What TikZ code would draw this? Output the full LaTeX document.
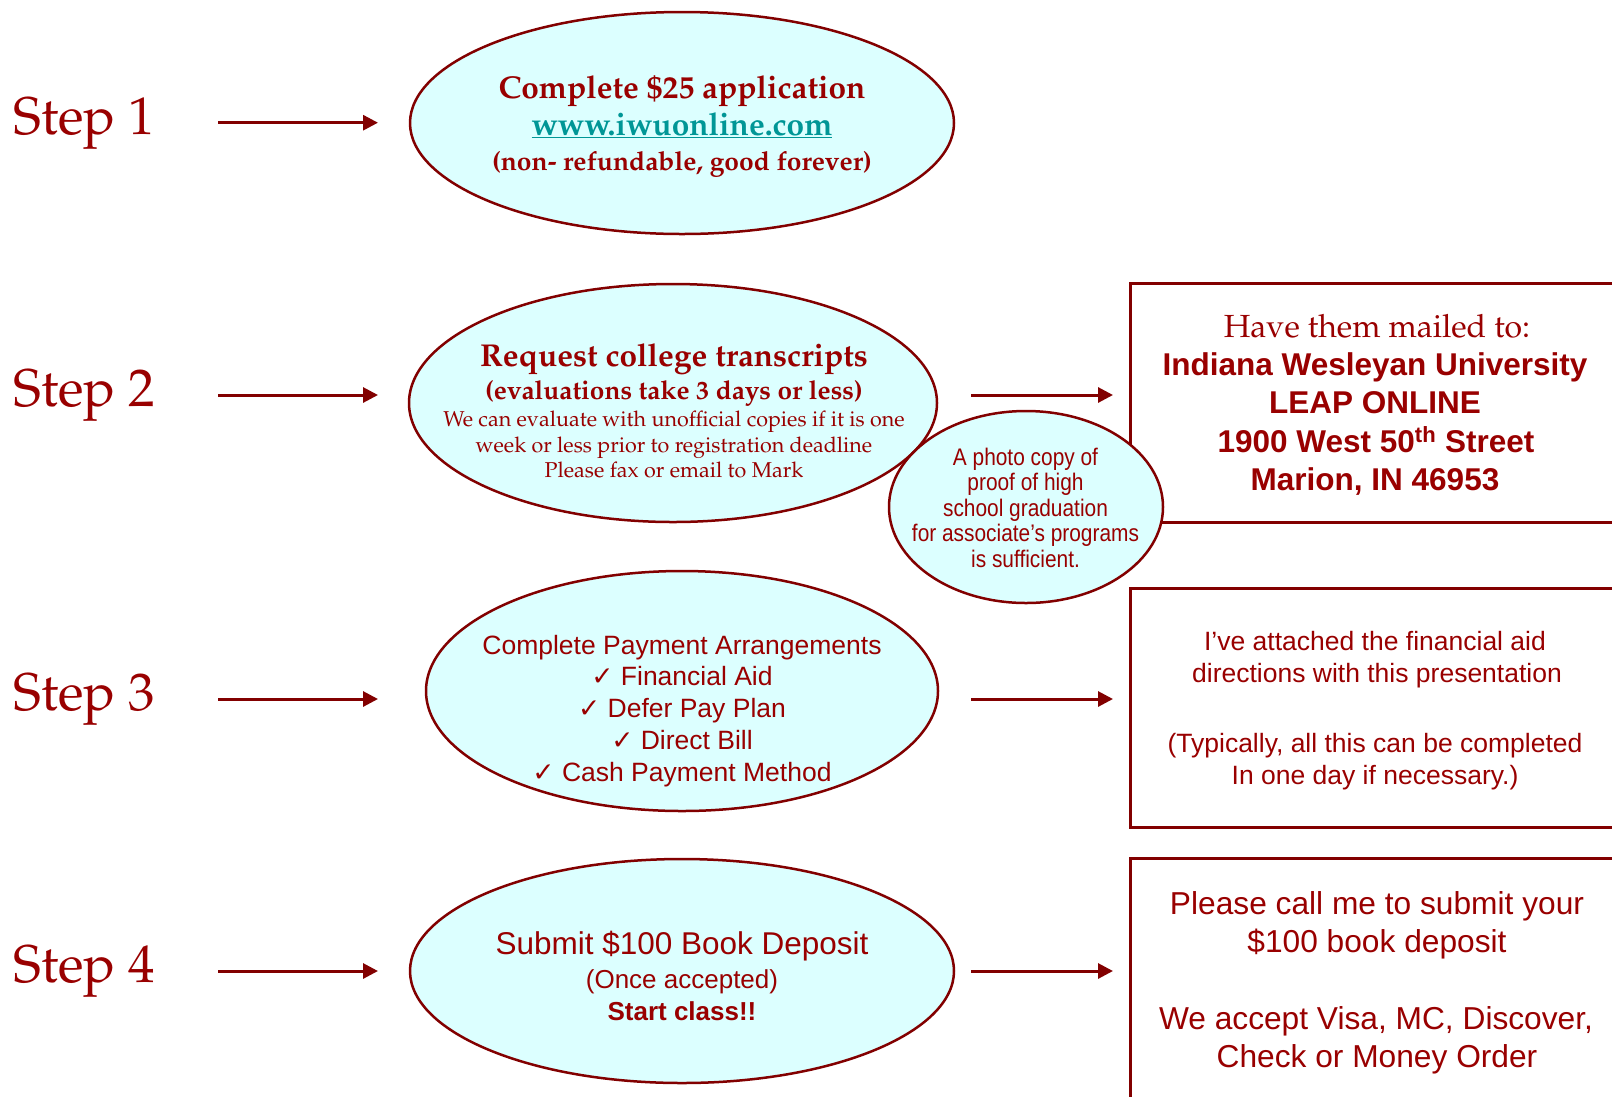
\documentclass[tikz,border=0pt]{standalone}
\usepackage[T1]{fontenc}
\usepackage{fontspec}
\setmainfont{Liberation Sans}
\newfontfamily\dejavu{DejaVu Sans}
\newfontfamily\narrowsans[FakeStretch=0.87]{Liberation Sans}
\usetikzlibrary{shapes.geometric,arrows.meta}
\definecolor{dred}{RGB}{153,0,0}
\definecolor{ered}{RGB}{130,0,0}
\definecolor{cyanf}{RGB}{220,255,255}
\definecolor{tealurl}{RGB}{0,150,150}
\newcommand\palsz[1]{\fontencoding{T1}\fontfamily{ppl}\fontsize{#1}{#1}\selectfont}
\newcommand\arsz[1]{\normalfont\fontsize{#1}{#1}\selectfont}
\newcommand\narsz[1]{\narrowsans\fontsize{#1}{#1}\selectfont}
\newcommand\chk{{\dejavu\char"2713}}
\tikzset{
  txt/.style={text=dred, inner sep=0pt, anchor=base},
  steplbl/.style={text=dred, inner sep=0pt, anchor=base west, font=\palsz{53}},
  ell/.style={ellipse, draw=ered, line width=2.5pt, fill=cyanf, inner sep=0pt, outer sep=0pt},
  infobox/.style={rectangle, draw=ered, line width=3pt, inner sep=0pt, outer sep=0pt, anchor=north west, minimum width=560pt},
  arr/.style={draw=ered, line width=3pt, -{Triangle[length=15pt,width=15pt]}},
}
\begin{document}
\begin{tikzpicture}[x=1pt,y=-1pt]
\clip (0,0) rectangle (1612,1096);
\fill[white] (0,0) rectangle (1612,1096);
% boxes
\node[infobox, minimum height=239pt] (b2) at (1130,283) {};
\node[infobox, minimum height=239pt] (b3) at (1130,588) {};
\node[infobox, minimum height=300pt] (b4) at (1130,858) {};
% ellipses
\node[ell, minimum width=544pt, minimum height=222pt] (e1) at (682,123) {};
\node[ell, minimum width=528pt, minimum height=238pt] (e2) at (673,403) {};
\node[ell, minimum width=512pt, minimum height=240pt] (e3) at (682,691) {};
\node[ell, minimum width=544pt, minimum height=224pt] (e4) at (682,971) {};
\node[ell, minimum width=274pt, minimum height=192pt] (c2) at (1026,507) {};
% step labels
\node[steplbl] (s1) at (13,134) {Step 1};
\node[steplbl] (s2) at (13,406.5) {Step 2};
\node[steplbl] (s3) at (13,710) {Step 3};
\node[steplbl] (s4) at (13,982) {Step 4};
% arrows
\coordinate (l1a) at (218,122.7); \coordinate (l1b) at (378,122.7);
\coordinate (l2a) at (218,395);   \coordinate (l2b) at (378,395);
\coordinate (l3a) at (218,699);   \coordinate (l3b) at (378,699);
\coordinate (l4a) at (218,971);   \coordinate (l4b) at (378,971);
\coordinate (r2a) at (971,395);   \coordinate (r2b) at (1113,395);
\coordinate (r3a) at (971,699);   \coordinate (r3b) at (1113,699);
\coordinate (r4a) at (971,971);   \coordinate (r4b) at (1113,971);
\draw[arr] (l1a) -- (l1b);
\draw[arr] (l2a) -- (l2b);
\draw[arr] (l3a) -- (l3b);
\draw[arr] (l4a) -- (l4b);
\draw[arr] (r2a) -- (r2b);
\draw[arr] (r3a) -- (r3b);
\draw[arr] (r4a) -- (r4b);
% ellipse 1 text
\node[txt, font=\palsz{31.6}\bfseries] (t1a) at (682,98) {Complete \$25 application};
\node[txt, font=\palsz{31.6}\bfseries, text=tealurl] (t1b) at (682,135) {\underline{www.iwuonline.com}};
\node[txt, font=\palsz{26.4}\bfseries] (t1c) at (682,170) {(non- refundable, good forever)};
% ellipse 2 text
\node[txt, font=\palsz{31.6}\bfseries] (t2a) at (674,366) {Request college transcripts};
\node[txt, font=\palsz{26.2}\bfseries] (t2b) at (674,399.5) {(evaluations take 3 days or less)};
\node[txt, font=\palsz{21.5}] (t2c) at (674,426) {We can evaluate with unofficial copies if it is one};
\node[txt, font=\palsz{21.5}] (t2d) at (674,452) {week or less prior to registration deadline};
\node[txt, font=\palsz{21.5}] (t2e) at (674,477) {Please fax or email to Mark};
% circle text
\node[txt, font=\narsz{24}] (c2a) at (1025.5,465) {A photo copy of};
\node[txt, font=\narsz{24}] (c2b) at (1025.5,490.5) {proof of high};
\node[txt, font=\narsz{24}] (c2c) at (1025.5,516) {school graduation};
\node[txt, font=\narsz{24}] (c2d) at (1025.5,541.5) {for associate’s programs};
\node[txt, font=\narsz{24}] (c2e) at (1025.5,567) {is sufficient.};
% ellipse 3 text
\node[txt, font=\arsz{26.5}] (t3a) at (682,654) {Complete Payment Arrangements};
\node[txt, font=\arsz{26.5}] (t3b) at (682,685) {\chk\ Financial Aid};
\node[txt, font=\arsz{26.5}] (t3c) at (682,717) {\chk\ Defer Pay Plan};
\node[txt, font=\arsz{26.5}] (t3d) at (682,749) {\chk\ Direct Bill};
\node[txt, font=\arsz{26.5}] (t3e) at (682,781) {\chk\ Cash Payment Method};
% ellipse 4 text
\node[txt, font=\arsz{31.5}] (t4a) at (682,954.5) {Submit \$100 Book Deposit};
\node[txt, font=\arsz{26}] (t4b) at (682,988) {(Once accepted)};
\node[txt, font=\arsz{26}\bfseries] (t4c) at (682,1020) {Start class!!};
% box 2 text
\node[txt, font=\palsz{32}] (b2a) at (1377,337.5) {Have them mailed to:};
\node[txt, font=\arsz{31.5}\bfseries] (b2b) at (1375,375.5) {Indiana Wesleyan University};
\node[txt, font=\arsz{31.5}\bfseries] (b2c) at (1375,413.5) {LEAP ONLINE};
\node[txt, font=\arsz{31.5}\bfseries] (b2d) at (1376,452) {1900 West 50\textsuperscript{th} Street};
\node[txt, font=\arsz{31.5}\bfseries] (b2e) at (1375,490) {Marion, IN 46953};
% box 3 text
\node[txt, font=\arsz{26.5}] (b3a) at (1375,650) {I’ve attached the financial aid};
\node[txt, font=\arsz{26.5}] (b3b) at (1377,682) {directions with this presentation};
\node[txt, font=\arsz{26.5}] (b3c) at (1375,752) {(Typically, all this can be completed};
\node[txt, font=\arsz{26.5}] (b3d) at (1375,784) {In one day if necessary.)};
% box 4 text
\node[txt, font=\arsz{31.7}] (b4a) at (1377,914.5) {Please call me to submit your};
\node[txt, font=\arsz{31.7}] (b4b) at (1377,952.5) {\$100 book deposit};
\node[txt, font=\arsz{31.7}] (b4c) at (1376,1029.5) {We accept Visa, MC, Discover,};
\node[txt, font=\arsz{31.7}] (b4d) at (1377,1067.5) {Check or Money Order};
\end{tikzpicture}
\end{document}
